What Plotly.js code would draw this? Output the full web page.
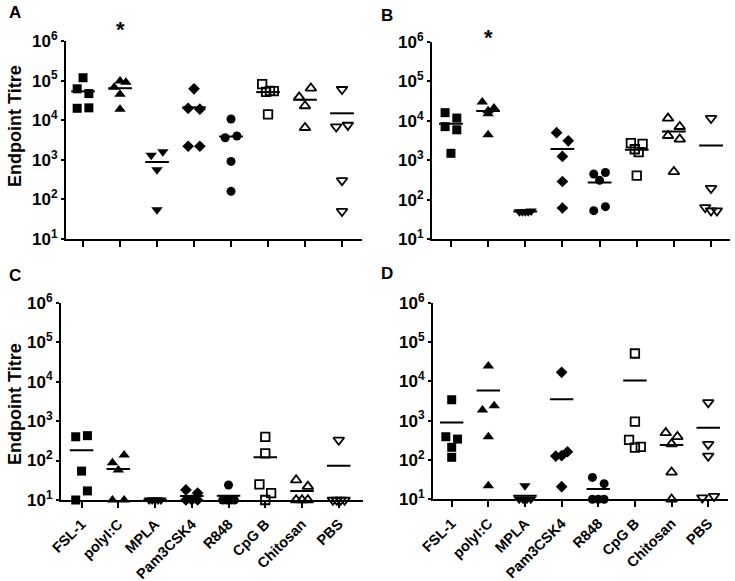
<!DOCTYPE html>
<html>
<head>
<meta charset="utf-8">
<script src="https://cdn.plot.ly/plotly-3.0.1.min.js"></script>
<style>html,body{margin:0;padding:0;background:#fff;}#chart{width:735px;height:581px;}</style>
</head>
<body>
<div id="chart"></div>
<script>
// ---- data ----
const categories = ['FSL-1', 'polyI:C', 'MPLA', 'Pam3CSK4', 'R848', 'CpG B', 'Chitosan', 'PBS'];
const yTickVals = [1e1, 1e2, 1e3, 1e4, 1e5, 1e6];
const yTickText = ['10<sup>1</sup>', '10<sup>2</sup>', '10<sup>3</sup>', '10<sup>4</sup>', '10<sup>5</sup>', '10<sup>6</sup>'];
const panelLabels = ['A', 'B', 'C', 'D'];
const yTitle = 'Endpoint Titre';
const significance = '*';
const significantGroup = 'polyI:C';

// endpoint titres per group (panel A)
const titreA = [
  [1.18e5, 6.2e4, 4.7e4, 2.0e4, 2.05e4],
  [6.8e4, 9.8e4, 9.1e4, 4.5e4, 1.9e4],
  [1.3e3, 1.6e3, 560, 55],
  [6.2e4, 2.0e4, 1.9e4, 2.2e3, 2.2e3],
  [1.07e4, 3.6e3, 4.0e3, 910, 160],
  [8.1e4, 5.2e4, 5.5e4, 5.4e4, 1.4e4],
  [3.8e4, 6.4e4, 2.3e4, 6.5e3],
  [6.0e4, 6.8e3, 7.5e3, 300, 50]
];
// panel B
const titreB = [
  [1.6e4, 1.17e4, 7.1e3, 5.9e3, 1.5e3],
  [3.0e4, 1.8e4, 2.1e4, 1.5e4, 4.4e3],
  [50, 50, 50, 50, 52],
  [5.0e3, 3.1e3, 1.25e3, 290, 62],
  [450, 310, 490, 53, 67],
  [2.7e3, 1.9e3, 1.6e3, 2.6e3, 410],
  [1.15e4, 4.2e3, 7.1e3, 3.4e3, 515],
  [1.15e4, 195, 64, 53, 53]
];
// panel C
const titreC = [
  [400, 427, 54, 10, 17],
  [88, 138, 58, 10, 10],
  [10, 10, 10, 10, 10],
  [18, 15, 10, 10, 10],
  [24, 10, 10, 10, 10],
  [400, 152, 25, 15, 10],
  [32, 22, 10, 10, 10],
  [330, 10, 10, 10, 10]
];
// panel D
const titreD = [
  [3.4e3, 390, 340, 210, 117],
  [2.45e4, 1.86e3, 2.4e3, 390, 22],
  [22, 10, 10, 10, 10],
  [1.7e4, 126, 129, 162, 21],
  [36, 25, 10, 10, 10],
  [5.1e4, 940, 324, 205, 215],
  [490, 255, 390, 49, 10],
  [2.9e3, 250, 126, 11, 12]
];

// ---- styling / layout ----
const W = 735, H = 581;
const FONT = 'Liberation Sans, Arial, Helvetica, sans-serif';
const symbols = ['square', 'triangle-up', 'triangle-down', 'diamond', 'circle', 'square-open', 'triangle-up-open', 'triangle-down-open'];
const sizes = [9, 10, 10, 9, 9, 8.5, 9.5, 9.5];

// panel geometry in pixels: [x0, x1, yTop, yBottom], x range
const panels = [
  {data: titreA, px: [66, 362, 41, 239], xr: [-0.46, 7.54], labels: false, letter: [15, 13], title: [15, 126], star: 30},
  {data: titreB, px: [432, 730, 41.7, 239.3], xr: [-0.51, 7.51], labels: false, letter: [387, 15], title: null, star: 37},
  {data: titreC, px: [61, 363, 302.7, 500], xr: [-0.56, 7.66], labels: true, letter: [15, 275], title: [15, 404], star: null},
  {data: titreD, px: [433, 728, 302.7, 499.3], xr: [-0.51, 7.54], labels: true, letter: [387, 274], title: null, star: null}
];

const CLUSTER = 0.245;  // log10 units treated as overlapping
const SPREAD = 11.7;    // px total horizontal spread for overlapping points
const HALF = 0.32;      // half width of mean line (category units)

function swarmOffsets(vals, pxPerCat) {
  const order = vals.map((v, i) => i).sort((a, b) => (vals[b] - vals[a]) || (a - b));
  const off = new Array(vals.length).fill(0);
  let i = 0;
  while (i < order.length) {
    const top = Math.log10(vals[order[i]]);
    let j = i + 1;
    while (j < order.length && top - Math.log10(vals[order[j]]) < CLUSTER) j++;
    const members = order.slice(i, j).sort((a, b) => a - b);
    const n = members.length;
    members.forEach((m, k) => {
      off[m] = n === 1 ? 0 : (-SPREAD / 2 + k * SPREAD / (n - 1)) / pxPerCat;
    });
    i = j;
  }
  return off;
}

const traces = [];
const layout = {
  width: W, height: H,
  margin: {l: 0, r: 0, t: 0, b: 0},
  paper_bgcolor: '#fff', plot_bgcolor: '#fff',
  showlegend: false,
  font: {family: FONT, color: '#000', size: 15, weight: 'bold'},
  annotations: []
};

panels.forEach((p, pi) => {
  const sfx = pi === 0 ? '' : String(pi + 1);
  const xa = 'x' + sfx, ya = 'y' + sfx;
  const [x0, x1, yt, yb] = p.px;
  const pxPerCat = (x1 - x0) / (p.xr[1] - p.xr[0]);

  const mx = [], my = [];
  p.data.forEach((vals, ci) => {
    const off = swarmOffsets(vals, pxPerCat);
    const open = symbols[ci].indexOf('open') >= 0;
    traces.push({
      type: 'scatter', mode: 'markers', xaxis: xa, yaxis: ya,
      x: vals.map((v, k) => ci + off[k]), y: vals,
      cliponaxis: false, hoverinfo: 'skip',
      marker: {symbol: symbols[ci], size: sizes[ci], color: '#000',
               line: {color: '#000', width: open ? 1.8 : 0}}
    });
    const mean = vals.reduce((a, b) => a + b, 0) / vals.length;
    mx.push(ci - HALF, ci + HALF, null);
    my.push(mean, mean, null);
  });
  traces.push({
    type: 'scatter', mode: 'lines', xaxis: xa, yaxis: ya,
    x: mx, y: my, cliponaxis: false, hoverinfo: 'skip',
    line: {color: '#000', width: 2}
  });

  layout['xaxis' + sfx] = {
    domain: [x0 / W, x1 / W], anchor: ya, range: p.xr,
    tickmode: 'array', tickvals: categories.map((c, i) => i), ticktext: categories,
    showticklabels: p.labels, tickangle: -45, ticklabelstandoff: 2,
    tickfont: {family: FONT, size: 14.5, color: '#000', weight: 'bold'},
    ticks: 'outside', ticklen: 6, tickwidth: 2, tickcolor: '#000',
    showline: true, linecolor: '#000', linewidth: 2,
    showgrid: false, zeroline: false, fixedrange: true
  };
  layout['yaxis' + sfx] = {
    domain: [1 - yb / H, 1 - yt / H], anchor: xa, type: 'log', range: [1, 6],
    tickmode: 'array', tickvals: yTickVals, ticktext: yTickText,
    tickfont: {family: FONT, size: 17, color: '#000', weight: 'bold'},
    ticks: 'outside', ticklen: 3, tickwidth: 2, tickcolor: '#000',
    showline: true, linecolor: '#000', linewidth: 2,
    showgrid: false, zeroline: false, fixedrange: true
  };

  layout.annotations.push({
    xref: 'paper', yref: 'paper', x: p.letter[0] / W, y: 1 - p.letter[1] / H,
    xanchor: 'center', yanchor: 'middle', showarrow: false,
    text: panelLabels[pi], font: {family: FONT, size: 17, color: '#000', weight: 'bold'}
  });
  if (p.title) {
    layout.annotations.push({
      xref: 'paper', yref: 'paper', x: p.title[0] / W, y: 1 - p.title[1] / H,
      xanchor: 'center', yanchor: 'middle', showarrow: false, textangle: -90,
      text: yTitle, font: {family: FONT, size: 18, color: '#000', weight: 'bold'}
    });
  }
  if (p.star !== null) {
    layout.annotations.push({
      xref: xa, yref: 'paper', x: categories.indexOf(significantGroup), y: 1 - p.star / H,
      xanchor: 'center', yanchor: 'middle', showarrow: false,
      text: significance, font: {family: FONT, size: 22, color: '#000', weight: 'bold'}
    });
  }
});

Plotly.newPlot('chart', traces, layout, {staticPlot: true, displayModeBar: false});
</script>
</body>
</html>
